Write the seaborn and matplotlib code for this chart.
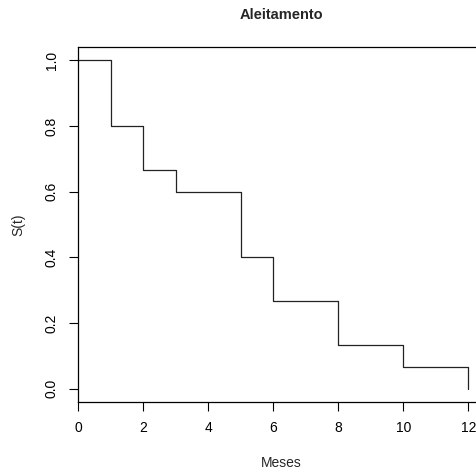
import matplotlib
matplotlib.use("Agg")
import matplotlib.pyplot as plt
import seaborn as sns
import pandas as pd

meses = [0, 1, 2, 3, 5, 6, 8, 10, 12]
sobrevida = [1.0, 0.8, 0.667, 0.6, 0.4, 0.267, 0.133, 0.067, 0.0]
x_ticks = [0, 2, 4, 6, 8, 10, 12]
y_ticks = [0.0, 0.2, 0.4, 0.6, 0.8, 1.0]

df = pd.DataFrame({"Meses": meses, "S(t)": sobrevida})

sns.set_theme(style="ticks")
plt.rcParams["font.family"] = ["Liberation Sans", "DejaVu Sans"]

fig = plt.figure(figsize=(4.76, 4.72), dpi=100)
ax = fig.add_axes([78.3 / 476, 70 / 472, 406.2 / 476, 355 / 472])

sns.lineplot(data=df, x="Meses", y="S(t)", drawstyle="steps-post",
             color="#222222", linewidth=0.9, estimator=None, ax=ax)

ax.set_xlim(0, 12.5)
ax.set_ylim(-0.04, 1.04)
ax.set_xticks(x_ticks)
ax.set_xticklabels([str(t) for t in x_ticks])
ax.set_yticks(y_ticks)
ax.set_yticklabels([f"{t:.1f}" for t in y_ticks], rotation=90, va="center")
ax.tick_params(length=6.5, width=0.8, color="black", pad=7.5, labelsize=10,
               labelcolor="black")
for s in ["left", "top", "bottom", "right"]:
    ax.spines[s].set_visible(True)
    ax.spines[s].set_color("black")
    ax.spines[s].set_linewidth(0.9)

ax.set_xlabel("Meses", fontsize=10, labelpad=15)
ax.set_ylabel("S(t)", fontsize=10, labelpad=14)
ax.set_title("Aleitamento", fontsize=10.5, fontweight="bold", pad=20)

fig.savefig("out.png", dpi=100)
